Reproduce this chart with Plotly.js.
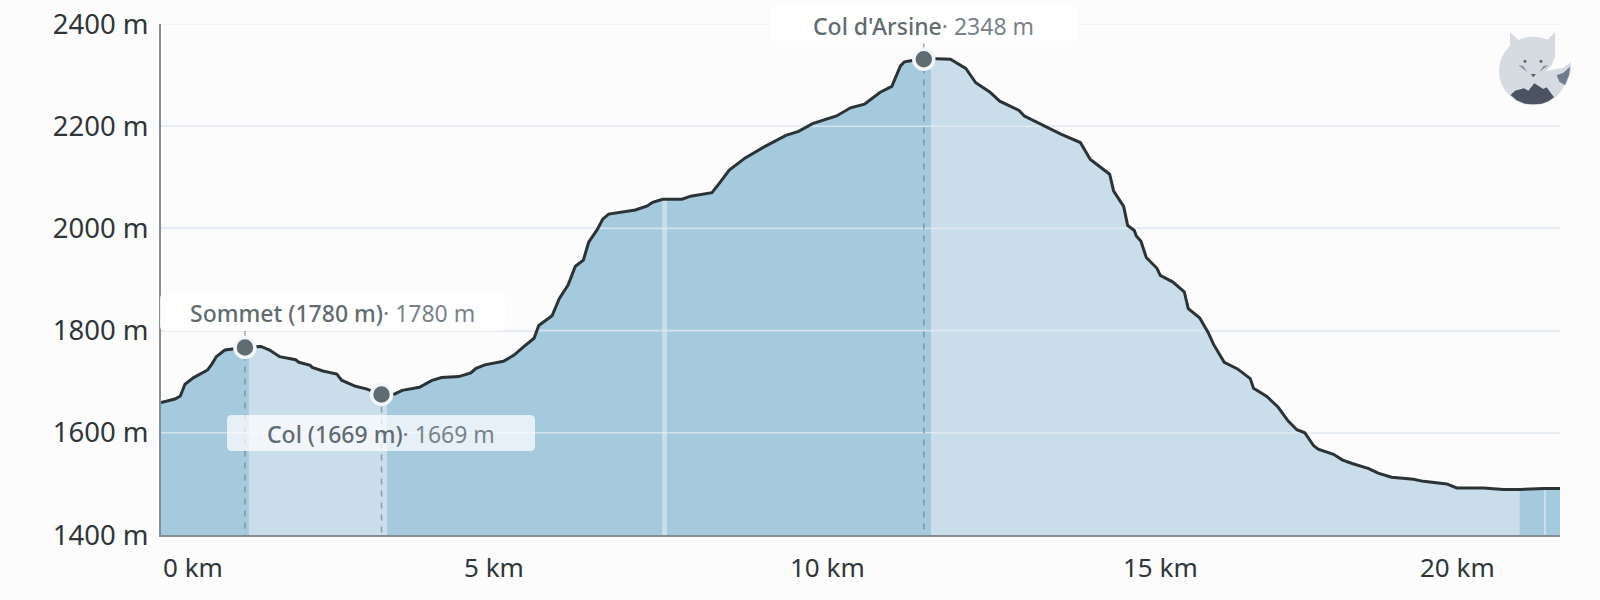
<!DOCTYPE html>
<html>
<head>
<meta charset="utf-8">
<script src="https://cdn.plot.ly/plotly-3.0.1.min.js"></script>
<style>
html, body { margin: 0; padding: 0; background: #fcfcfc; }
#plot { width: 1600px; height: 600px; }
</style>
</head>
<body>
<div id="plot"></div>
<script>
// profile: km, metres
var km = [0, 0.21, 0.29, 0.36, 0.49, 0.70, 0.76, 0.83, 0.96, 1.11, 1.26, 1.32, 1.50, 1.63, 1.78, 2.02, 2.07, 2.24, 2.27, 2.43, 2.64, 2.71, 2.92, 3.08, 3.31, 3.39, 3.51, 3.62, 3.88, 4.06, 4.21, 4.47, 4.65, 4.73, 4.86, 5.14, 5.30, 5.45, 5.60, 5.67, 5.87, 5.98, 6.11, 6.22, 6.34, 6.42, 6.55, 6.63, 6.72, 7.12, 7.30, 7.38, 7.51, 7.53, 7.59, 7.82, 7.95, 8.27, 8.38, 8.53, 8.77, 9.06, 9.38, 9.57, 9.78, 10.14, 10.35, 10.56, 10.79, 10.97, 11.10, 11.16, 11.30, 11.45, 11.56, 11.64, 11.85, 12.08, 12.23, 12.44, 12.59, 12.88, 12.96, 13.19, 13.50, 13.80, 13.95, 14.24, 14.30, 14.45, 14.51, 14.61, 14.64, 14.71, 14.79, 14.95, 15.00, 15.19, 15.36, 15.42, 15.59, 15.72, 15.80, 15.96, 16.16, 16.35, 16.40, 16.60, 16.77, 16.92, 17.05, 17.17, 17.30, 17.37, 17.60, 17.73, 17.88, 18.13, 18.27, 18.47, 18.80, 18.95, 19.30, 19.45, 19.85, 20.15, 20.39, 20.76, 20.79, 21];
var elevation = [1659, 1666, 1672, 1695, 1708, 1723, 1734, 1749, 1762, 1765, 1767, 1768, 1769, 1762, 1749, 1743, 1738, 1732, 1728, 1721, 1715, 1703, 1691, 1686, 1675, 1675, 1676, 1683, 1689, 1702, 1708, 1710, 1717, 1726, 1733, 1740, 1752, 1769, 1785, 1810, 1829, 1863, 1889, 1926, 1938, 1973, 1998, 2018, 2028, 2036, 2044, 2051, 2057, 2057, 2057, 2057, 2063, 2070, 2088, 2114, 2138, 2160, 2182, 2190, 2205, 2220, 2236, 2243, 2266, 2278, 2318, 2326, 2329, 2331, 2332, 2332, 2331, 2313, 2285, 2267, 2249, 2231, 2220, 2205, 2185, 2168, 2135, 2106, 2073, 2043, 2006, 1996, 1985, 1975, 1943, 1922, 1908, 1895, 1876, 1843, 1825, 1796, 1773, 1738, 1725, 1706, 1687, 1671, 1650, 1623, 1606, 1600, 1575, 1568, 1558, 1547, 1540, 1530, 1521, 1513, 1509, 1505, 1500, 1492, 1492, 1489, 1489, 1491, 1491, 1491];

// where the shading changes, first band is the dark one
var zoneBreaks = [0, 1.32, 3.39, 7.53, 7.59, 11.56, 20.39, 20.76, 20.79, 21];

var passKm = [1.26, 3.31, 11.45];
var passElevation = [1767, 1675, 2331];
var passTop = [1800, 1675, 2362];
var passNames = ["Sommet (1780 m)", "Col (1669 m)", "Col d'Arsine"];
var passHeights = ["1780 m", "1669 m", "2348 m"];

var yTicks = [1400, 1600, 1800, 2000, 2200, 2400];
var yTickLabels = ["1400 m", "1600 m", "1800 m", "2000 m", "2200 m", "2400 m"];
var xTicks = [0, 5, 10, 15, 20];
var xTickLabels = ["0 km", "5 km", "10 km", "15 km", "20 km"];

var FONT = "Noto Sans";
var DARK = "#a5c9dd";
var LIGHT = "#c9deea";
var BG = "#fcfcfc";
var L = 161, R = 1560, T = 24, B = 535;

function px(x) { return (x - L) / (R - L); }
function py(y) { return (B - y) / (B - T); }

var traces = [];

// shaded bands
for (var i = 0; i < zoneBreaks.length - 1; i++) {
    var xs = [], ys = [];
    for (var j = 0; j < km.length; j++) {
        if (km[j] >= zoneBreaks[i] && km[j] <= zoneBreaks[i + 1]) {
            xs.push(km[j]);
            ys.push(elevation[j]);
        }
    }
    traces.push({
        x: xs, y: ys, type: "scatter", mode: "none",
        fill: "tozeroy", fillcolor: i % 2 == 0 ? DARK : LIGHT,
        hoverinfo: "skip"
    });
}

// the grid shows through the fill, lighter
var gridX = [], gridY = [];
yTicks.slice(1).forEach(function (t) {
    gridX.push(0, 21, null);
    gridY.push(t, t, null);
});
traces.push({
    x: gridX, y: gridY, type: "scatter", mode: "lines",
    line: { color: "rgba(232,238,244,0.7)", width: 1.6 }, hoverinfo: "skip"
});

// dashed drop lines
passKm.forEach(function (k, n) {
    traces.push({
        x: [k, k],
        y: [passTop[n], 1400],
        type: "scatter", mode: "lines",
        line: { color: "rgba(100,115,125,0.6)", width: 1.5, dash: "6px,6px" },
        hoverinfo: "skip"
    });
});

traces.push({
    x: km, y: elevation, type: "scatter", mode: "lines",
    line: { color: "#2c3336", width: 3 }, hoverinfo: "skip"
});

traces.push({
    x: passKm, y: passElevation, type: "scatter", mode: "markers",
    marker: { size: 20, color: "#5f6c72", line: { color: "#f3f6f8", width: 3.5 } },
    hoverinfo: "skip"
});

function box(x0, x1, y0, y1, r, fill) {
    var a = px(x0), b = px(x1), c = py(y0), d = py(y1);
    var rx = r / (R - L), ry = r / (B - T);
    return {
        type: "path", xref: "paper", yref: "paper", layer: "above",
        fillcolor: fill, line: { width: 0 },
        path: "M" + (a + rx) + "," + c + " L" + (b - rx) + "," + c + " Q" + b + "," + c + " " + b + "," + (c - ry) +
            " L" + b + "," + (d + ry) + " Q" + b + "," + d + " " + (b - rx) + "," + d +
            " L" + (a + rx) + "," + d + " Q" + a + "," + d + " " + a + "," + (d + ry) +
            " L" + a + "," + (c - ry) + " Q" + a + "," + c + " " + (a + rx) + "," + c + " Z"
    };
}

// logo, points in crop pixels
function poly(points, fill) {
    var s = points.map(function (p, i) {
        return (i ? "L" : "M") + px(1400 + p[0] / 3) + "," + py(p[1] / 3);
    }).join(" ") + " Z";
    return { type: "path", xref: "paper", yref: "paper", layer: "above", fillcolor: fill, line: { width: 0 }, path: s };
}
var GREY = "#d6dbe2";
var shapes = [
    box(160, 505, 293.5, 331, 5, "rgba(255,255,255,0.85)"),
    box(227, 535, 415, 451, 5, "rgba(255,255,255,0.72)"),
    box(770, 1078, 6.5, 41, 5, "rgba(255,255,255,0.9)"),
    { type: "circle", xref: "paper", yref: "paper", layer: "above", fillcolor: GREY, line: { width: 0 },
      x0: px(1400 + 297 / 3), x1: px(1400 + 503 / 3), y0: py(316 / 3), y1: py(110 / 3) },
    poly([[330, 97], [358, 122], [385, 125], [330, 160]], GREY),
    poly([[465, 97], [440, 122], [415, 125], [465, 170]], GREY),
    poly([[466, 125], [520, 125], [520, 178], [490, 203], [437, 213], [455, 195], [465, 170]], BG),
    poly([[512, 185], [513, 215], [500, 250], [490, 262], [470, 250], [462, 215], [490, 210]], GREY),
    poly([[510, 200], [507, 225], [495, 255], [478, 245], [470, 226], [490, 218]], "#6f7c8f"),
    poly([[332, 285], [345, 272], [372, 265], [385, 272], [403, 250], [430, 267], [440, 262], [462, 292], [445, 304], [425, 311], [400, 313], [375, 311], [350, 301]], "#4b5261"),
    poly([[355, 195], [370, 198], [382, 217]], "#8a93a0"),
    poly([[445, 195], [430, 198], [418, 217]], "#8a93a0"),
    poly([[392, 222], [408, 222], [400, 232]], "#5a6270"),
    poly([[371, 180], [379, 180], [379, 188], [371, 188]], "#5a6270"),
    poly([[419, 180], [427, 180], [427, 188], [419, 188]], "#5a6270")
];

// label centres, pixels
var labelX = [332, 381, 923.5];
var labelY = [313, 434, 26];
var annotations = passNames.map(function (name, n) {
    return {
        xref: "paper", yref: "paper", x: px(labelX[n]), y: py(labelY[n]),
        xanchor: "center", yanchor: "middle", showarrow: false,
        font: { family: FONT, size: 23, color: "#77838a" },
        text: '<span style="font-weight:500;color:#5f6c72">' + name + "</span>· " + passHeights[n]
    };
});
xTicks.forEach(function (t, n) {
    annotations.push({
        xref: "x", yref: "paper", x: t, y: py(567),
        xanchor: n == 0 ? "left" : (n == xTicks.length - 1 ? "right" : "center"),
        xshift: n == xTicks.length - 1 ? 4 : 0,
        yanchor: "middle", showarrow: false,
        font: { family: FONT, size: 26, color: "#2f363a" },
        text: xTickLabels[n]
    });
});

var layout = {
    width: 1600, height: 600,
    margin: { l: L, r: 1600 - R, t: T, b: 600 - B },
    paper_bgcolor: BG, plot_bgcolor: BG,
    showlegend: false,
    font: { family: FONT },
    xaxis: {
        range: [0, 21], showgrid: false, zeroline: false, showticklabels: false, ticks: "",
        showline: true, linecolor: "#858d94", linewidth: 2, layer: "above traces"
    },
    yaxis: {
        range: [1400, 2400], tickmode: "array", tickvals: yTicks, ticktext: yTickLabels,
        showgrid: true, gridcolor: "#e3e9ef", gridwidth: 2, zeroline: false,
        showline: true, linecolor: "#858d94", linewidth: 2, ticks: "", layer: "above traces",
        ticklabelstandoff: 5,
        tickfont: { family: FONT, size: 27.5, color: "#2f363a" }
    },
    shapes: shapes,
    annotations: annotations
};

Plotly.newPlot("plot", traces, layout, { displayModeBar: false, staticPlot: true });
</script>
</body>
</html>
